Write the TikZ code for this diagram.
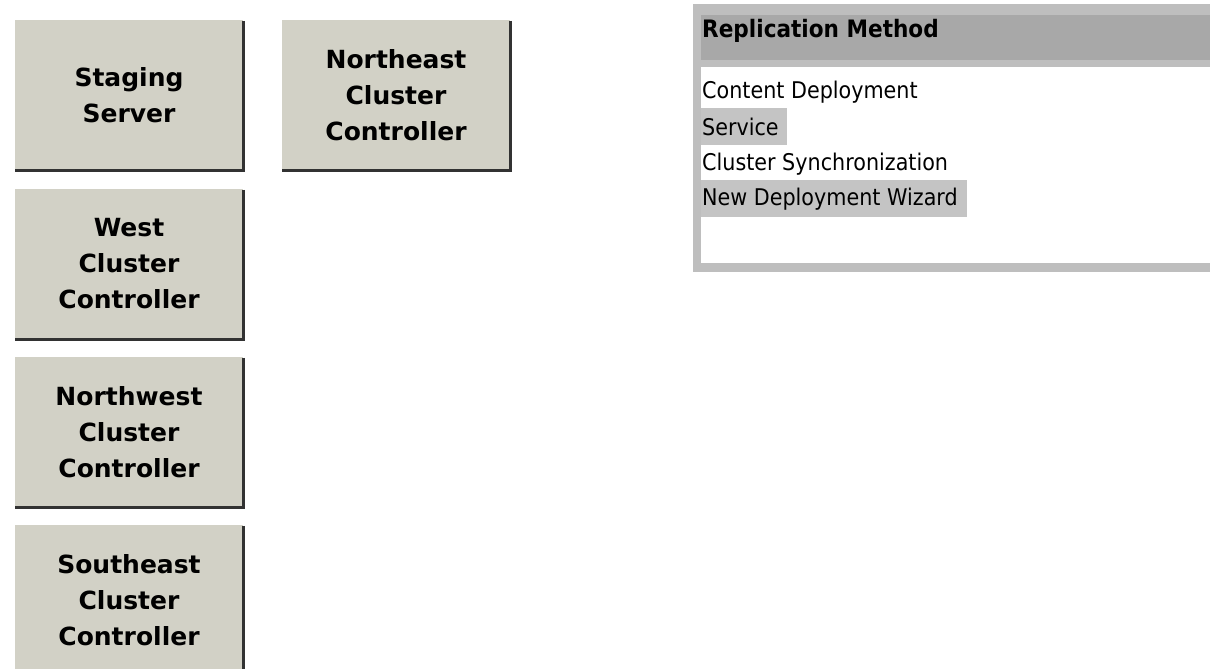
\documentclass[tikz,border=0pt]{standalone}
\usepackage{fontspec}
\setmainfont{DejaVu Sans}
\newfontfamily\btnfont{DejaVu Sans}
\newfontfamily\listfont[FakeStretch=0.9]{DejaVu Sans}
\definecolor{btnface}{RGB}{210,209,198}
\definecolor{btnshadow}{RGB}{50,50,50}
\definecolor{panelborder}{RGB}{190,190,190}
\definecolor{panelhead}{RGB}{168,168,168}
\definecolor{rowhl}{RGB}{196,196,196}
\begin{document}
\begin{tikzpicture}[x=1pt,y=-1pt,
  btn/.style={fill=btnface, minimum width=228pt, minimum height=150pt, inner sep=0pt,
    align=center, font=\btnfont\bfseries\fontsize{25}{36}\selectfont},
  listtext/.style={anchor=base west, inner sep=0pt, font=\listfont\fontsize{23}{28}\selectfont},
  headtext/.style={anchor=base west, inner sep=0pt, font=\listfont\bfseries\fontsize{24}{28}\selectfont}]
\useasboundingbox[fill=white] (0,0) rectangle (1210,669);

% buttons
\node[btn] (staging) at (129,95) {Staging\\Server};
\node[btn] (northeast) at (396,95) {Northeast\\Cluster\\Controller};
\node[btn] (west) at (129,264) {West\\Cluster\\Controller};
\node[btn] (northwest) at (129,432) {Northwest\\Cluster\\Controller};
\node[btn] (southeast) at (129,600) {Southeast\\Cluster\\Controller};
\foreach \b in {staging,northeast,west,northwest,southeast}{
  \draw[btnshadow, line width=3pt] ([yshift=-1pt]\b.north east) -- (\b.south east) -- (\b.south west);
}

% panel
\fill[panelborder] (693,4) rectangle (1210,272);
\fill[panelhead] (701,15) rectangle (1210,60);
\fill[white] (701,67) rectangle (1210,263);
\fill[rowhl] (701,108) rectangle (787,145);
\fill[rowhl] (701,180) rectangle (967,217);

\node[headtext] (head) at (702,38) {Replication Method};
\node[listtext] (r1) at (702,99) {Content Deployment};
\node[listtext] (r2) at (702,135) {Service};
\node[listtext] (r3) at (702,170) {Cluster Synchronization};
\node[listtext] (r4) at (702,205) {New Deployment Wizard};
\end{tikzpicture}
\end{document}
